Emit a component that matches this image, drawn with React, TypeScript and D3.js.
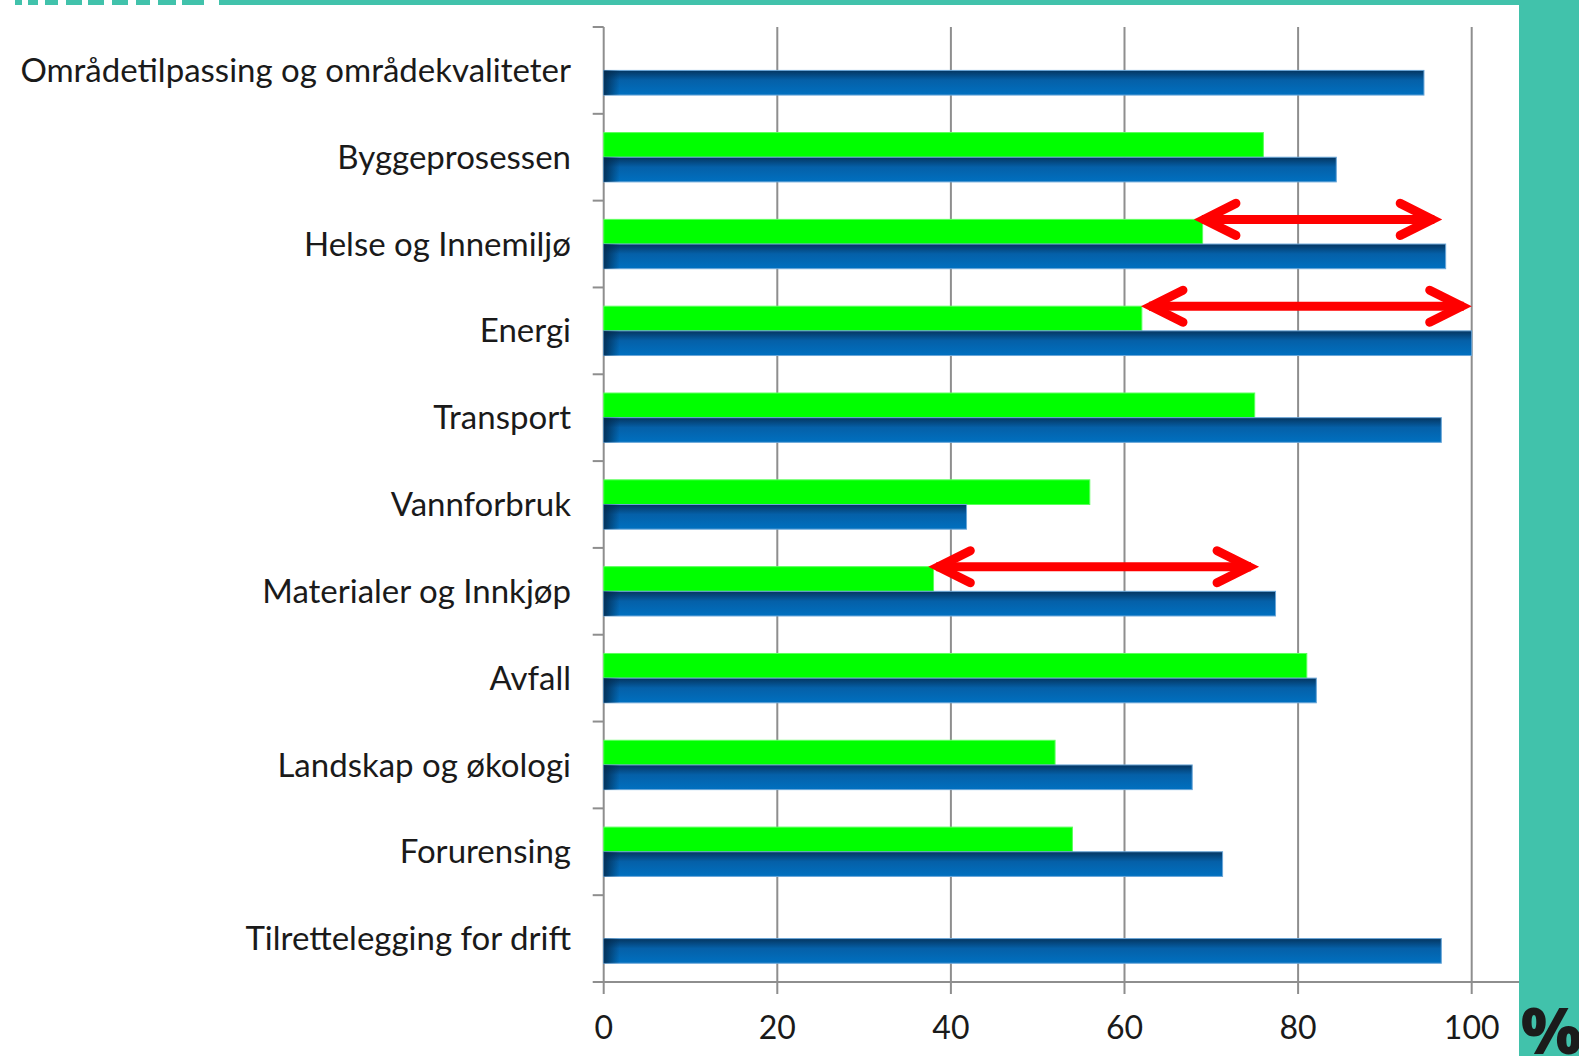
import React, { useEffect, useRef } from "react";
import * as d3 from "d3";

const categories = [
  "Områdetilpassing og områdekvaliteter",
  "Byggeprosessen",
  "Helse og Innemiljø",
  "Energi",
  "Transport",
  "Vannforbruk",
  "Materialer og Innkjøp",
  "Avfall",
  "Landskap og økologi",
  "Forurensing",
  "Tilrettelegging for drift",
];
const greenValues = [null, 76, 69, 62, 75, 56, 38, 81, 52, 54, null];
const blueValues = [94.5, 84.4, 97, 100, 96.5, 41.8, 77.4, 82.1, 67.8, 71.3, 96.5];

const arrowCategories = ["Helse og Innemiljø", "Energi", "Materialer og Innkjøp"];
const arrowFrom = [68, 61.9, 37.4];
const arrowTo = [96.6, 100, 75.5];

const xTicks = [0, 20, 40, 60, 80, 100];

const App = () => {
  const ref = useRef<SVGSVGElement>(null);

  function draw() {
    const svg = d3.select(ref.current);
    svg.selectAll("*").remove();
    const width = 1579;
    const height = 1056;
    const teal = "#41c2ab";
    const grid = "#8e8e8e";

    svg.attr("width", width).attr("height", height);

    const defs = svg.append("defs");
    const bg = defs
      .append("linearGradient")
      .attr("id", "blueV")
      .attr("x1", 0)
      .attr("y1", 0)
      .attr("x2", 0)
      .attr("y2", 1);
    bg.append("stop").attr("offset", "0%").attr("stop-color", "#043560");
    bg.append("stop").attr("offset", "40%").attr("stop-color", "#0560a8");
    bg.append("stop").attr("offset", "100%").attr("stop-color", "#0070c0");
    const bh = defs
      .append("linearGradient")
      .attr("id", "blueH")
      .attr("x1", 0)
      .attr("y1", 0)
      .attr("x2", 1)
      .attr("y2", 0);
    bh.append("stop").attr("offset", "0%").attr("stop-color", "#02284a").attr("stop-opacity", 0.85);
    bh.append("stop").attr("offset", "100%").attr("stop-color", "#02284a").attr("stop-opacity", 0);

    const x = d3.scaleLinear().domain([0, 100]).range([603.7, 1471.7]);
    const y = d3.scaleBand().domain(categories).range([27, 982]);
    const sub = d3
      .scaleBand()
      .domain(["green", "blue"])
      .range([0, y.bandwidth()])
      .paddingInner(0)
      .paddingOuter(0.76);

    const plotTop = 27;
    const axisY = 982;

    // gridlines + vertical axis
    svg
      .append("g")
      .selectAll("line")
      .data(xTicks)
      .join("line")
      .attr("x1", (d) => x(d))
      .attr("x2", (d) => x(d))
      .attr("y1", plotTop)
      .attr("y2", axisY + 12)
      .attr("stroke", grid)
      .attr("stroke-width", 2);

    // category ticks
    svg
      .append("g")
      .selectAll("line")
      .data(d3.range(categories.length))
      .join("line")
      .attr("x1", x(0) - 11)
      .attr("x2", x(0))
      .attr("y1", (i) => y(categories[i])!)
      .attr("y2", (i) => y(categories[i])!)
      .attr("stroke", grid)
      .attr("stroke-width", 2);

    // horizontal axis
    svg
      .append("line")
      .attr("x1", x(0) - 11)
      .attr("x2", 1519)
      .attr("y1", axisY)
      .attr("y2", axisY)
      .attr("stroke", grid)
      .attr("stroke-width", 2);

    // green bars
    svg
      .append("g")
      .selectAll("rect")
      .data(categories.filter((c, i) => greenValues[i] != null))
      .join("rect")
      .attr("x", x(0))
      .attr("y", (c) => y(c)! + sub("green")!)
      .attr("width", (c) => x(greenValues[categories.indexOf(c)]!) - x(0))
      .attr("height", sub.bandwidth())
      .attr("fill", "#00ff00")
      .attr("stroke", "#5cff5c")
      .attr("stroke-width", 1);

    // blue bars
    const blue = svg.append("g").selectAll("g").data(categories).join("g");
    blue
      .append("rect")
      .attr("x", x(0))
      .attr("y", (c) => y(c)! + sub("blue")!)
      .attr("width", (c, i) => x(blueValues[i]) - x(0))
      .attr("height", sub.bandwidth())
      .attr("fill", "url(#blueV)")
      .attr("stroke", "#6aa6d8")
      .attr("stroke-width", 1);
    blue
      .append("rect")
      .attr("x", x(0))
      .attr("y", (c) => y(c)! + sub("blue")!)
      .attr("width", 16)
      .attr("height", sub.bandwidth())
      .attr("fill", "url(#blueH)");

    // category labels
    svg
      .append("g")
      .selectAll("text")
      .data(categories)
      .join("text")
      .attr("x", 571)
      .attr("y", (c) => y(c)! + y.bandwidth() / 2)
      .attr("dy", "0.35em")
      .attr("text-anchor", "end")
      .attr("font-family", "Lato, 'Open Sans', sans-serif")
      .attr("font-size", 33)
      .attr("fill", "#1a1a1a")
      .text((c) => c);

    // x tick labels
    svg
      .append("g")
      .selectAll("text")
      .data(xTicks)
      .join("text")
      .attr("x", (d) => x(d))
      .attr("y", 1028)
      .attr("dy", "0.35em")
      .attr("text-anchor", "middle")
      .attr("font-family", "Lato, 'Open Sans', sans-serif")
      .attr("font-size", 32)
      .attr("fill", "#1a1a1a")
      .text((d) => d);

    // red double arrows
    const arrows = svg
      .append("g")
      .attr("fill", "none")
      .attr("stroke", "#ff0000")
      .attr("stroke-width", 9)
      .selectAll("g")
      .data(arrowCategories)
      .join("g");
    const ay = (c: string) => y(c)! + sub("green")!;
    const ai = (c: string) => arrowCategories.indexOf(c);
    arrows
      .append("line")
      .attr("x1", (c) => x(arrowFrom[ai(c)]) + 8)
      .attr("x2", (c) => x(arrowTo[ai(c)]) - 8)
      .attr("y1", ay)
      .attr("y2", ay)
      .attr("stroke-linecap", "butt");
    arrows
      .append("path")
      .attr("stroke-linejoin", "miter")
      .attr("stroke-linecap", "round")
      .attr("d", (c) => {
        const x0 = x(arrowFrom[ai(c)]) + 10;
        const yy = ay(c);
        return `M${x0 + 32},${yy - 16}L${x0},${yy}L${x0 + 32},${yy + 16}`;
      });
    arrows
      .append("path")
      .attr("stroke-linejoin", "miter")
      .attr("stroke-linecap", "round")
      .attr("d", (c) => {
        const x1 = x(arrowTo[ai(c)]) - 10;
        const yy = ay(c);
        return `M${x1 - 32},${yy - 16}L${x1},${yy}L${x1 - 32},${yy + 16}`;
      });

    // teal frame
    svg.append("rect").attr("x", 1519).attr("y", 0).attr("width", 60).attr("height", height).attr("fill", teal);
    svg.append("rect").attr("x", 0).attr("y", 0).attr("width", 1519).attr("height", 5).attr("fill", teal);
    const gaps = [
      [0, 15],
      [22, 28],
      [38, 45],
      [58, 66],
      [82, 88],
      [104, 112],
      [128, 136],
      [150, 158],
      [176, 182],
      [204, 219],
    ];
    svg
      .append("g")
      .selectAll("rect")
      .data(gaps)
      .join("rect")
      .attr("x", (d) => d[0])
      .attr("y", 0)
      .attr("width", (d) => d[1] - d[0])
      .attr("height", 5)
      .attr("fill", "#ffffff");

    svg
      .append("text")
      .attr("x", 1521)
      .attr("y", 1054)
      .attr("font-family", "'Open Sans', sans-serif")
      .attr("font-weight", 800)
      .attr("font-size", 64)
      .attr("fill", "#1b1b1b")
      .text("%");
  }

  useEffect(() => {
    draw();
  }, []);

  return <svg ref={ref} style={{ position: "absolute", left: 0, top: 0 }} />;
};

export default App;
